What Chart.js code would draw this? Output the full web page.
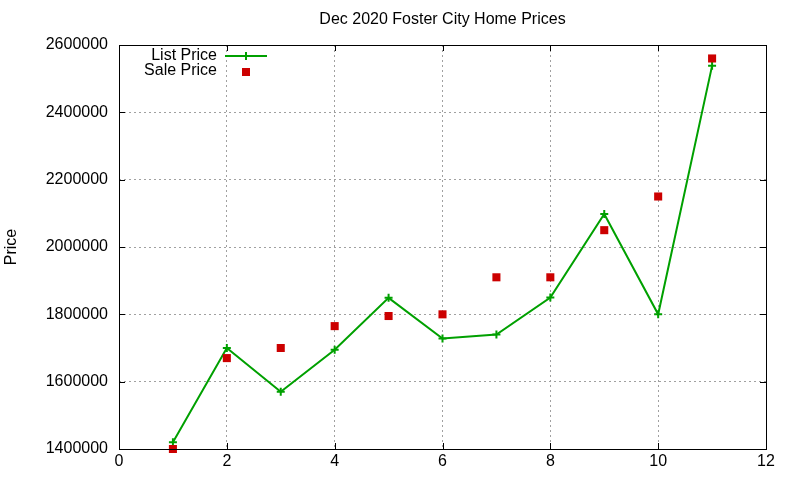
<!DOCTYPE html>
<html>
<head>
<meta charset="utf-8">
<script src="https://cdn.jsdelivr.net/npm/chart.js@4.4.1/dist/chart.umd.min.js"></script>
<style>
  html, body { margin: 0; padding: 0; background: #fff; }
  #wrap { width: 800px; height: 480px; }
</style>
</head>
<body>
<div id="wrap"><canvas id="c" width="800" height="480"></canvas></div>
<script>
const chartTitle = "Dec 2020 Foster City Home Prices"
const yTitle = "Price"

const xValues   = [1, 2, 3, 4, 5, 6, 7, 8, 9, 10, 11]
const listPrice = [1420000, 1700000, 1570000, 1695000, 1849000, 1728000, 1740000, 1850000, 2098000, 1800000, 2538000]
const salePrice = [1400000, 1670000, 1700000, 1765000, 1795000, 1800000, 1910000, 1910000, 2050000, 2150000, 2560000]

const xTicks = [0, 2, 4, 6, 8, 10, 12]
const yTicks = [1400000, 1600000, 1800000, 2000000, 2200000, 2400000, 2600000]

const GREEN = "#00a000"
const RED = "#cc0000"
const FONT = '"Liberation Sans", Arial, sans-serif'

Chart.defaults.font.family = FONT
Chart.defaults.font.size = 16
Chart.defaults.color = "#000"

// gnuplot-ish frame: solid border, inward ticks on all four sides, title and legend
const framePlugin = {
  id: "frame",
  afterDatasetsDraw(chart) {
    const { ctx, chartArea: a, scales: { x, y } } = chart
    const tl = 6
    ctx.save()
    ctx.strokeStyle = "#000"
    ctx.lineWidth = 1
    ctx.beginPath()
    xTicks.forEach(v => {
      const px = Math.round(x.getPixelForValue(v)) + 0.5
      ctx.moveTo(px, a.bottom); ctx.lineTo(px, a.bottom - tl)
      ctx.moveTo(px, a.top); ctx.lineTo(px, a.top + tl)
    })
    yTicks.forEach(v => {
      const py = Math.round(y.getPixelForValue(v)) + 0.5
      ctx.moveTo(a.left, py); ctx.lineTo(a.left + tl, py)
      ctx.moveTo(a.right, py); ctx.lineTo(a.right - tl, py)
    })
    ctx.stroke()
    ctx.strokeRect(Math.round(a.left) + 0.5, Math.round(a.top) + 0.5,
                   Math.round(a.right - a.left), Math.round(a.bottom - a.top))
    ctx.restore()
  },
  afterDraw(chart) {
    const { ctx, chartArea: a } = chart
    const ds = chart.data.datasets
    ctx.save()
    ctx.fillStyle = "#000"
    ctx.font = "16px " + FONT
    ctx.textBaseline = "middle"
    ctx.textAlign = "center"
    ctx.fillText(chartTitle, (a.left + a.right) / 2, 20)

    // legend, text right-aligned with sample to the right
    const tx = 217, sx0 = 225, sx1 = 267, sm = 246
    const y1 = 56, y2 = 71
    ctx.textAlign = "right"
    ctx.fillText(ds[0].label, tx, y1)
    ctx.fillText(ds[1].label, tx, y2)

    ctx.strokeStyle = ds[0].borderColor
    ctx.lineWidth = 2
    ctx.beginPath()
    ctx.moveTo(sx0, y1); ctx.lineTo(sx1, y1)
    ctx.moveTo(sm, y1 - 4); ctx.lineTo(sm, y1 + 4)
    ctx.stroke()

    ctx.fillStyle = ds[1].backgroundColor
    ctx.fillRect(sm - 4, y2 - 3, 8, 8)
    ctx.restore()
  }
}

new Chart(document.getElementById("c").getContext("2d"), {
  type: "line",
  data: {
    datasets: [
      { label: "List Price", data: xValues.map((x, i) => ({ x, y: listPrice[i] })),
        borderColor: GREEN, backgroundColor: GREEN, borderWidth: 2,
        pointStyle: "cross", pointRadius: 4, pointBorderWidth: 2,
        tension: 0, clip: false, order: 2 },
      { label: "Sale Price", data: xValues.map((x, i) => ({ x, y: salePrice[i] })),
        showLine: false, borderColor: RED, backgroundColor: RED,
        pointStyle: "rect", pointRadius: 5.7, pointBorderWidth: 0,
        clip: false, order: 1 }
    ]
  },
  options: {
    responsive: false,
    animation: false,
    devicePixelRatio: 1,
    layout: { padding: { top: 45, right: 34, left: 0, bottom: 0 } },
    plugins: {
      legend: { display: false },
      title: { display: false },
      tooltip: { enabled: false }
    },
    scales: {
      x: {
        type: "linear", min: 0, max: 12,
        afterBuildTicks: s => { s.ticks = xTicks.map(v => ({ value: v })) },
        afterFit: s => { s.height = 31 },
        ticks: { padding: 3, font: { size: 16 }, color: "#000" },
        grid: { color: "#a0a0a0", lineWidth: 1, drawTicks: false },
        border: { display: false, dash: [2, 3] }
      },
      y: {
        type: "linear", min: 1400000, max: 2600000,
        afterBuildTicks: s => { s.ticks = yTicks.map(v => ({ value: v })) },
        afterFit: s => { s.width = 119 },
        ticks: { padding: 11, font: { size: 16 }, color: "#000", callback: v => String(v) },
        grid: { color: "#a0a0a0", lineWidth: 1, drawTicks: false },
        border: { display: false, dash: [2, 3] },
        title: { display: true, text: yTitle, font: { size: 16 }, color: "#000", padding: { top: 2, bottom: 0 } }
      }
    }
  },
  plugins: [framePlugin]
})
</script>
</body>
</html>
